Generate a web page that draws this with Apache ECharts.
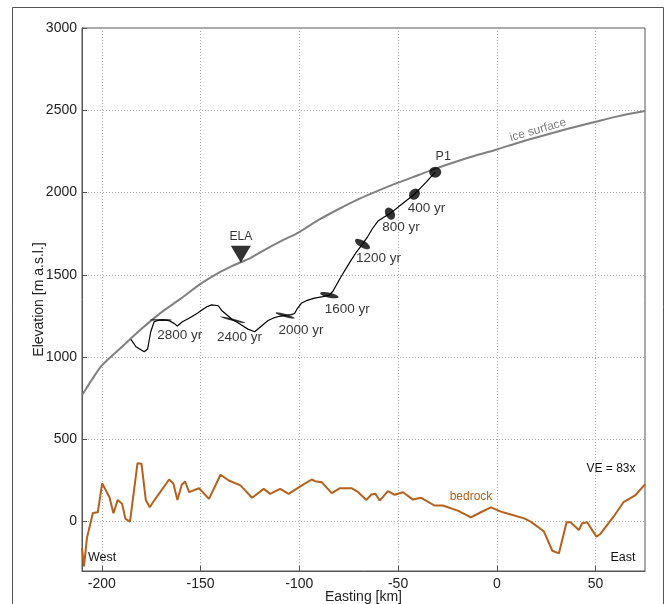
<!DOCTYPE html>
<html>
<head>
<meta charset="utf-8">
<script src="https://cdn.jsdelivr.net/npm/echarts@6/dist/echarts.min.js"></script>
<style>
  html, body { margin: 0; padding: 0; background: #fff; }
  #main { width: 667px; height: 604px; }
</style>
</head>
<body>
<div id="main"></div>
<script>
// tick labels
var xTicks = [-200, -150, -100, -50, 0, 50];
var yTicks = [0, 500, 1000, 1500, 2000, 2500, 3000];

// ice surface profile [easting km, elevation m]
var iceSurface = [
    [-210, 768], [-205, 862], [-200, 948], [-190, 1060], [-180, 1170], [-170, 1270],
    [-160, 1355], [-150, 1445], [-140, 1518], [-135, 1548], [-130, 1575], [-125, 1600],
    [-120, 1635], [-110, 1700], [-100, 1760], [-90, 1835], [-80, 1900], [-70, 1960],
    [-60, 2012], [-50, 2060], [-40, 2105], [-30, 2150], [-20, 2190], [-10, 2228],
    [0, 2262], [10, 2300], [20, 2335], [30, 2368], [40, 2400], [50, 2430], [60, 2460], [75, 2495]
];

// bedrock profile
var bedrock = [
    [-210, -160], [-209, -272], [-207.5, -100], [-204.5, 53], [-202, 57], [-199.8, 233],
    [-196.1, 148], [-194.1, 51], [-191.9, 132], [-189.7, 108], [-188, 17], [-185.7, 0],
    [-181.9, 355], [-179.9, 352], [-177.7, 132], [-175.7, 87], [-173.5, 128], [-165.9, 256],
    [-163.7, 230], [-161.7, 132], [-159.5, 224], [-157.8, 244], [-155.8, 179], [-150.8, 203],
    [-145.7, 138], [-139.9, 285], [-135.7, 250], [-129.8, 220], [-123.9, 145], [-118, 199],
    [-114.7, 169], [-109.7, 199], [-105.4, 169], [-98.7, 220], [-93.7, 256], [-92, 246],
    [-88.7, 240], [-83.6, 173], [-79.4, 203], [-73.6, 203], [-70.2, 179], [-66, 132],
    [-63.5, 165], [-61.5, 169], [-59.3, 128], [-55.1, 185], [-51.7, 163], [-47.5, 179],
    [-42.5, 134], [-38.3, 145], [-31.6, 98], [-27.4, 98], [-19.8, 67], [-13.1, 26],
    [-8.1, 57], [-3, 87], [2, 61], [7.1, 43], [13.8, 20], [17.1, 0], [22.2, -45],
    [23.8, -59], [28.1, -177], [31.4, -193], [35.3, -4], [37.3, -4], [41.5, -51],
    [43.2, -10], [45.7, -4], [50.4, -91], [52.4, -75], [59.1, 30], [64.1, 118],
    [70, 159], [75, 226]
];

// particle path from P1 back in time
var flowline = [
    [-31.2, 2124], [-36, 2060], [-41.7, 1990], [-48, 1930], [-54.1, 1872], [-57, 1852],
    [-60.3, 1825], [-63, 1780], [-65.3, 1734], [-68, 1687], [-71, 1640], [-74, 1585],
    [-78.8, 1490], [-83, 1400], [-84.8, 1376], [-88, 1368], [-92.3, 1358], [-96, 1345],
    [-99, 1327], [-101, 1295], [-102.4, 1265], [-104, 1258], [-107.2, 1253], [-110, 1248],
    [-113, 1238], [-115.8, 1222], [-119, 1190], [-122.6, 1154], [-126, 1170], [-129.3, 1195],
    [-131.5, 1212], [-133.8, 1227], [-136, 1250], [-139, 1280], [-141, 1312], [-144.4, 1317],
    [-146.6, 1307], [-149.1, 1287], [-151.6, 1266], [-155.8, 1236], [-159.2, 1215], [-161.7, 1189],
    [-163.4, 1205], [-166, 1222], [-169, 1226], [-171, 1224], [-173.5, 1215], [-175.2, 1154],
    [-176.8, 1049], [-178.5, 1032], [-182.7, 1063], [-185.2, 1108]
];

// age markers along the path
var markerPos = [
    [-31.2, 2124], [-41.7, 1990], [-54.1, 1872], [-68, 1687],
    [-84.8, 1376], [-107.2, 1253], [-133.8, 1227], [-170.1, 1226]
];
var markerNames = ['P1', '400 yr', '800 yr', '1200 yr', '1600 yr', '2000 yr', '2400 yr', '2800 yr'];

var elaPoint = [-129.6, 1625];

// marker shape per point: size, rotation, label offset
var markerStyle = [
    { size: [12, 11], rot: 0, off: [8, -16] },
    { size: [12, 10], rot: 50, off: [12, 14] },
    { size: [13, 9], rot: -60, off: [11, 14] },
    { size: [17, 7], rot: -30, off: [16, 14] },
    { size: [19, 5], rot: -12, off: [18, 14] },
    { size: [20, 3], rot: -16, off: [16, 15] },
    { size: [26, 2], rot: -14, off: [7, 18] },
    { size: [22, 2], rot: 0, off: [19, 15] }
];

var FONT = '"Liberation Sans", Arial, sans-serif';

var markerData = markerPos.map(function (p, i) {
    var s = markerStyle[i];
    return {
        value: p,
        name: markerNames[i],
        symbolSize: s.size,
        symbolRotate: s.rot,
        label: {
            show: true,
            position: 'inside',
            offset: s.off,
            formatter: markerNames[i],
            color: '#000',
            fontSize: i === 0 ? 12.5 : 13.5,
            fontFamily: FONT
        }
    };
});

var myChart = echarts.init(document.getElementById('main'));
var option = {
    animation: false,
    backgroundColor: '#fff',
    grid: {
        left: 82, right: 22, top: 28, bottom: 33,
        containLabel: false,
        outerBoundsMode: 'none',
        show: true, borderColor: '#555', borderWidth: 1
    },
    xAxis: {
        type: 'value',
        min: -210, max: 75,
        name: 'Easting [km]',
        nameLocation: 'middle',
        nameGap: 19,
        nameMoveOverlap: false,
        nameTextStyle: { fontSize: 14, color: '#222', fontFamily: FONT },
        axisLine: { show: true, onZero: false, lineStyle: { color: '#555' } },
        axisTick: { show: true, inside: true, customValues: xTicks, length: 5, lineStyle: { color: '#555' } },
        axisLabel: {
            customValues: xTicks, fontSize: 14, color: '#222', margin: 6, fontFamily: FONT,
            formatter: function (v) { return String(v); }
        },
        splitLine: { show: true, lineStyle: { color: '#aaa', type: [1, 2], width: 1 } }
    },
    yAxis: {
        type: 'value',
        min: -300, max: 3000,
        name: 'Elevation [m a.s.l.]',
        nameLocation: 'middle',
        nameGap: 36,
        nameMoveOverlap: false,
        nameTextStyle: { fontSize: 14, color: '#222', fontFamily: FONT },
        axisLine: { show: true, onZero: false, lineStyle: { color: '#555' } },
        axisTick: { show: true, inside: true, customValues: yTicks, length: 5, lineStyle: { color: '#555' } },
        axisLabel: {
            customValues: yTicks, fontSize: 14, color: '#222', margin: 5, fontFamily: FONT,
            formatter: function (v) { return String(v); }
        },
        splitLine: { show: true, lineStyle: { color: '#aaa', type: [1, 2], width: 1 } }
    },
    series: [
        {
            name: 'ice surface',
            type: 'line',
            data: iceSurface,
            showSymbol: false,
            smooth: 0.3,
            lineStyle: { color: '#808080', width: 2 },
            z: 2
        },
        {
            name: 'bedrock',
            type: 'line',
            data: bedrock,
            showSymbol: false,
            lineStyle: { color: '#b5611c', width: 2 },
            z: 2
        },
        {
            name: 'path',
            type: 'line',
            data: flowline,
            showSymbol: false,
            lineStyle: { color: '#000', width: 1.2 },
            z: 3
        },
        {
            name: 'ages',
            type: 'scatter',
            data: markerData,
            symbol: 'circle',
            itemStyle: { color: '#000' },
            z: 4
        },
        {
            name: 'ELA',
            type: 'scatter',
            data: [elaPoint],
            symbol: 'triangle',
            symbolRotate: 180,
            symbolSize: [20, 17],
            itemStyle: { color: '#000' },
            label: {
                show: true, position: 'top', distance: 3, formatter: 'ELA',
                color: '#000', fontSize: 12, fontFamily: FONT
            },
            z: 4
        }
    ],
    graphic: [
        {
            type: 'rect', silent: true, z: -1,
            shape: { x: 12.5, y: 7.5, width: 651, height: 620 },
            style: { fill: 'none', stroke: '#555', lineWidth: 1 }
        },
        {
            type: 'text', x: 538, y: 130, rotation: 16 * Math.PI / 180,
            style: { text: 'ice surface', fill: '#808080', font: '12px ' + FONT, textAlign: 'center', textVerticalAlign: 'middle' }
        },
        {
            type: 'text', x: 471, y: 497,
            style: { text: 'bedrock', fill: '#b5611c', font: '12px ' + FONT, textAlign: 'center', textVerticalAlign: 'middle' }
        },
        {
            type: 'text', x: 611, y: 469,
            style: { text: 'VE = 83x', fill: '#111', font: '12px ' + FONT, textAlign: 'center', textVerticalAlign: 'middle' }
        },
        {
            type: 'text', x: 102, y: 558,
            style: { text: 'West', fill: '#111', font: '12.5px ' + FONT, textAlign: 'center', textVerticalAlign: 'middle' }
        },
        {
            type: 'text', x: 623, y: 558,
            style: { text: 'East', fill: '#111', font: '12.5px ' + FONT, textAlign: 'center', textVerticalAlign: 'middle' }
        }
    ]
};
myChart.setOption(option);
</script>
</body>
</html>
